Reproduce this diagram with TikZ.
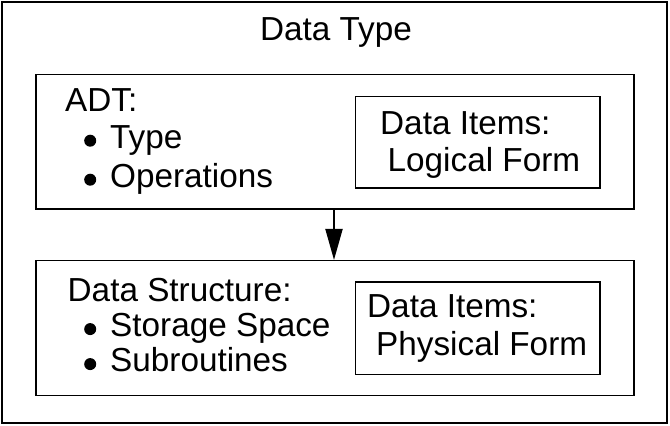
\documentclass[tikz,border=0pt]{standalone}
\usepackage{fontspec}
\setmainfont{Liberation Sans}
\usetikzlibrary{arrows.meta,positioning}
\newcommand{\bul}{\tikz[baseline=0pt]\fill (6pt, 7.6pt) circle (6pt);\hspace{14pt}}
\begin{document}
\begin{tikzpicture}[x=1pt, y=-1pt,
    box/.style={draw, line width=1.5pt, inner sep=0pt},
    txt/.style={anchor=base west, inner sep=0pt, font=\fontsize{33.3}{38}\selectfont}]
    \useasboundingbox (0, 0) rectangle (670, 426);
    \node[box, minimum width=665pt, minimum height=421pt] (type) at (334.5, 212.5) {};
    \node[txt, anchor=base] (typelbl) at (336, 40) {Data Type};
    \node[box, minimum width=598pt, minimum height=134.3pt] (adt) at (335, 141.85) {};
    \node[box, minimum width=244.3pt, minimum height=91.3pt] (logical) at (477.85, 142.35) {};
    \node[txt] (adtlbl) at (65, 111.7) {ADT:};
    \node[txt] (adttype) at (84, 148.3) {\bul Type};
    \node[txt] (adtops) at (84, 187.3) {\bul Operations};
    \node[txt] (logicala) at (380, 134.3) {Data Items:};
    \node[txt] (logicalb) at (387.5, 171) {Logical Form};
    \node[box, minimum width=598pt, minimum height=135pt] (ds) at (335, 328.2) {};
    \node[box, minimum width=244.3pt, minimum height=92.7pt] (physical) at (477.85, 328.35) {};
    \node[txt] (dslbl) at (67.5, 301.7) {Data Structure:};
    \node[txt] (dsstore) at (84, 336.7) {\bul Storage Space};
    \node[txt] (dssub) at (84, 371.7) {\bul Subroutines};
    \node[txt] (physicala) at (367, 317) {Data Items:};
    \node[txt] (physicalb) at (376, 355) {Physical Form};
    \draw[line width=2pt, -{Triangle[width=17pt, length=31pt]}] (adt.south -| 334, 0) -- (ds.north -| 334, 0);
\end{tikzpicture}
\end{document}
